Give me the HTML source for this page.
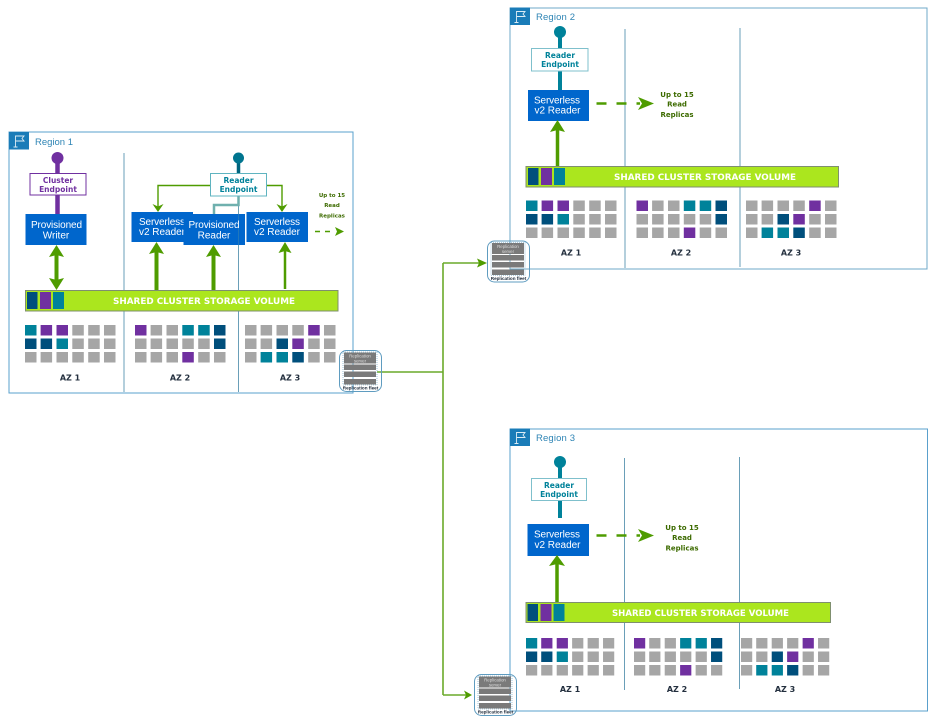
<!DOCTYPE html>
<html><head><meta charset="utf-8"><style>
html,body{margin:0;padding:0;background:#fff}
svg{display:block;filter:blur(.3px)}
.rg{font:9.5px "Liberation Sans",sans-serif;fill:#2f85b5}
.bt{font:10px "Liberation Sans",sans-serif;fill:#fff;text-anchor:middle}
.ep{font:bold 7.5px "DejaVu Sans",sans-serif;text-anchor:middle}
.az{font:bold 8px "DejaVu Sans",sans-serif;fill:#232f3e;text-anchor:middle}
.bar{font:bold 8.8px "DejaVu Sans",sans-serif;fill:#fff}
.up{font:bold 7px "DejaVu Sans",sans-serif;fill:#3d6b00;text-anchor:middle}
.sm{font:bold 5.500px "DejaVu Sans",sans-serif;fill:#3d6b00;text-anchor:middle}
.t{fill:#00829a}.p{fill:#7030a0}.n{fill:#004f7c}.g{fill:#a6a6a6}
</style></head><body>
<svg width="936" height="726" viewBox="0 0 936 726" xmlns="http://www.w3.org/2000/svg">
<defs>
<g id="flag"><rect width="20" height="17.500" fill="#1a7cb8"/><path d="M6.500 3.500V15M4.500 15H8.500M6.500 4H15L13 6.500L15 9H6.500" fill="none" stroke="#dcecf5" stroke-width=".9"/></g>
<g id="a1">
<rect x="0" y="0" width="11.500" height="10.500" class="t"/><rect x="15.600" y="0" width="11.500" height="10.500" class="p"/><rect x="31.500" y="0" width="11.500" height="10.500" class="p"/><rect x="47.300" y="0" width="11.500" height="10.500" class="g"/><rect x="63.200" y="0" width="11.500" height="10.500" class="g"/><rect x="79" y="0" width="11.500" height="10.500" class="g"/>
<rect x="0" y="13.500" width="11.500" height="10.500" class="n"/><rect x="15.600" y="13.500" width="11.500" height="10.500" class="n"/><rect x="31.500" y="13.500" width="11.500" height="10.500" class="t"/><rect x="47.300" y="13.500" width="11.500" height="10.500" class="g"/><rect x="63.200" y="13.500" width="11.500" height="10.500" class="g"/><rect x="79" y="13.500" width="11.500" height="10.500" class="g"/>
<rect x="0" y="27" width="11.500" height="10.500" class="g"/><rect x="15.600" y="27" width="11.500" height="10.500" class="g"/><rect x="31.500" y="27" width="11.500" height="10.500" class="g"/><rect x="47.300" y="27" width="11.500" height="10.500" class="g"/><rect x="63.200" y="27" width="11.500" height="10.500" class="g"/><rect x="79" y="27" width="11.500" height="10.500" class="g"/>
</g>
<g id="a2">
<rect x="0" y="0" width="11.500" height="10.500" class="p"/><rect x="15.600" y="0" width="11.500" height="10.500" class="g"/><rect x="31.500" y="0" width="11.500" height="10.500" class="g"/><rect x="47.300" y="0" width="11.500" height="10.500" class="t"/><rect x="63.200" y="0" width="11.500" height="10.500" class="t"/><rect x="79" y="0" width="11.500" height="10.500" class="n"/>
<rect x="0" y="13.500" width="11.500" height="10.500" class="g"/><rect x="15.600" y="13.500" width="11.500" height="10.500" class="g"/><rect x="31.500" y="13.500" width="11.500" height="10.500" class="g"/><rect x="47.300" y="13.500" width="11.500" height="10.500" class="g"/><rect x="63.200" y="13.500" width="11.500" height="10.500" class="g"/><rect x="79" y="13.500" width="11.500" height="10.500" class="n"/>
<rect x="0" y="27" width="11.500" height="10.500" class="g"/><rect x="15.600" y="27" width="11.500" height="10.500" class="g"/><rect x="31.500" y="27" width="11.500" height="10.500" class="g"/><rect x="47.300" y="27" width="11.500" height="10.500" class="p"/><rect x="63.200" y="27" width="11.500" height="10.500" class="g"/><rect x="79" y="27" width="11.500" height="10.500" class="g"/>
</g>
<g id="a3">
<rect x="0" y="0" width="11.500" height="10.500" class="g"/><rect x="15.600" y="0" width="11.500" height="10.500" class="g"/><rect x="31.500" y="0" width="11.500" height="10.500" class="g"/><rect x="47.300" y="0" width="11.500" height="10.500" class="g"/><rect x="63.200" y="0" width="11.500" height="10.500" class="p"/><rect x="79" y="0" width="11.500" height="10.500" class="g"/>
<rect x="0" y="13.500" width="11.500" height="10.500" class="g"/><rect x="15.600" y="13.500" width="11.500" height="10.500" class="g"/><rect x="31.500" y="13.500" width="11.500" height="10.500" class="n"/><rect x="47.300" y="13.500" width="11.500" height="10.500" class="p"/><rect x="63.200" y="13.500" width="11.500" height="10.500" class="g"/><rect x="79" y="13.500" width="11.500" height="10.500" class="g"/>
<rect x="0" y="27" width="11.500" height="10.500" class="g"/><rect x="15.600" y="27" width="11.500" height="10.500" class="t"/><rect x="31.500" y="27" width="11.500" height="10.500" class="t"/><rect x="47.300" y="27" width="11.500" height="10.500" class="n"/><rect x="63.200" y="27" width="11.500" height="10.500" class="g"/><rect x="79" y="27" width="11.500" height="10.500" class="g"/>
</g>
<g id="sw"><rect x="0" y="0" width="10.500" height="17" class="n"/><rect x="13" y="0" width="11" height="17" class="p"/><rect x="26" y="0" width="11" height="17" class="t"/></g>
<g id="fleet">
<rect x=".5" y=".5" width="42" height="41" rx="7" fill="none" stroke="#5f9cc0" stroke-width="1"/>
<rect x="5" y="2.500" width="32" height="11" fill="#7a7a7a"/>
<rect x="5" y="14.500" width="32" height="5.500" fill="#7a7a7a"/>
<rect x="5" y="21.500" width="32" height="5.500" fill="#7a7a7a"/>
<rect x="5" y="29" width="32" height="5.500" fill="#7a7a7a"/>
<rect x="4" y="2" width="34" height="33" fill="none" stroke="#5f9cc0" stroke-width=".6" stroke-dasharray="1 1"/>
<text x="21" y="7.500" font-family="Liberation Sans,sans-serif" font-size="4.400" fill="#ddd" text-anchor="middle">Replication</text>
<text x="21" y="12.300" font-family="Liberation Sans,sans-serif" font-size="4.400" fill="#ddd" text-anchor="middle">server</text>
<text x="21.500" y="39.500" font-family="Liberation Sans,sans-serif" font-weight="bold" font-size="4.600" fill="#232f3e" text-anchor="middle">Replication fleet</text>
</g>
</defs>

<!-- Region 1 -->
<rect x="9" y="132" width="344" height="261" fill="#fff" stroke="#5aa0cc" stroke-width="1"/>
<use href="#flag" x="9" y="132"/>
<text class="rg" x="35" y="145" textLength="38">Region 1</text>
<path d="M124 153V392M238.500 196V392" stroke="#6a9fb8" stroke-width="1" fill="none"/>

<path d="M57.500 158V214" stroke="#7030a0" stroke-width="4.500"/>
<circle cx="57.500" cy="158" r="6" fill="#7030a0"/>
<rect x="30" y="173.500" width="56" height="21.500" fill="#fff" stroke="#7030a0" stroke-width="1"/>
<text class="ep" x="58" y="183" style="fill:#7030a0">Cluster</text>
<text class="ep" x="58" y="192" style="fill:#7030a0">Endpoint</text>
<rect x="25.500" y="214" width="61" height="31" fill="#0066cc"/>
<text class="bt" x="56.500" y="228" textLength="51">Provisioned</text>
<text class="bt" x="56" y="238.500">Writer</text>
<path d="M56.500 252V283" stroke="#4f9c00" stroke-width="4"/>
<path d="M56.500 245L64 257L56.500 255L49 257Z M56.500 290L64 278L56.500 280L49 278Z" fill="#4f9c00"/>

<path d="M238.500 158V173" stroke="#00657f" stroke-width="3.500"/>
<circle cx="238.500" cy="158" r="5.500" fill="#00758f"/>
<path d="M210 185.500H158V210M267 185.500H282V211" fill="none" stroke="#4f9c00" stroke-width="1.400"/>
<path d="M158 212L152.500 204L158 206.500L163.500 204Z M282 212L276.500 204L282 206.500L287.500 204Z" fill="#4f9c00"/>
<path d="M238.500 196V205H214V214" fill="none" stroke="#6fb0ae" stroke-width="2.500"/>
<rect x="210.500" y="173.500" width="56" height="22.500" fill="#fff" stroke="#5fb4c0" stroke-width="1"/>
<text class="ep" x="238.500" y="183" style="fill:#00829a">Reader</text>
<text class="ep" x="238.500" y="192" style="fill:#00829a">Endpoint</text>

<rect x="131.500" y="212" width="61.500" height="30" fill="#0066cc"/>
<text class="bt" x="162" y="225" textLength="46">Serverless</text>
<text class="bt" x="162" y="235" textLength="46">v2 Reader</text>
<rect x="183.500" y="214" width="61.500" height="31" fill="#0066cc"/>
<path d="M238.500 214V245" stroke="#2f7fb5" stroke-width=".7"/>
<text class="bt" x="214" y="228" textLength="51">Provisioned</text>
<text class="bt" x="214" y="238.500">Reader</text>
<rect x="246.500" y="212" width="61.500" height="30" fill="#0066cc"/>
<text class="bt" x="277" y="225" textLength="46">Serverless</text>
<text class="bt" x="277" y="235" textLength="46">v2 Reader</text>

<path d="M156.500 250V290M213.500 252V290" stroke="#4f9c00" stroke-width="4"/>
<path d="M156.500 242L164 254L156.500 252L149 254Z M213.500 245L221 257L213.500 255L206 257Z" fill="#4f9c00"/>
<path d="M285 250V289" stroke="#4f9c00" stroke-width="2.500"/>
<path d="M285 242L291.500 253L285 251L278.500 253Z" fill="#4f9c00"/>
<path d="M315 231.500H334" stroke="#4f9c00" stroke-width="1.400" stroke-dasharray="5 5"/>
<path d="M344 231.500L335 227L337 231.500L335 236Z" fill="#4f9c00"/>
<text class="sm" x="332" y="197">Up to 15</text>
<text class="sm" x="332" y="207">Read</text>
<text class="sm" x="332" y="217.500">Replicas</text>

<rect x="25.500" y="290.500" width="312.500" height="20.500" fill="#abe61e" stroke="#7f8f6f" stroke-width="1"/>
<use href="#sw" x="27" y="292"/>
<text class="bar" x="113" y="304" textLength="182" lengthAdjust="spacingAndGlyphs">SHARED CLUSTER STORAGE VOLUME</text>
<use href="#a1" x="25" y="325"/><use href="#a2" x="135" y="325"/><use href="#a3" x="245" y="325"/>
<text class="az" x="70" y="380.500">AZ 1</text><text class="az" x="180" y="380.500">AZ 2</text><text class="az" x="290" y="380.500">AZ 3</text>

<!-- Region 2 -->
<rect x="510" y="8" width="417" height="261" fill="#fff" stroke="#6fa8c8" stroke-width="1"/>
<use href="#flag" x="510" y="7.500"/>
<text class="rg" x="536" y="20" textLength="39">Region 2</text>
<path d="M625 29V268M740 28V267" stroke="#6a9fb8" stroke-width="1" fill="none"/>
<path d="M560 32V90" stroke="#00829a" stroke-width="4"/>
<circle cx="560" cy="32" r="6" fill="#00829a"/>
<rect x="531.500" y="48.500" width="56.500" height="22.500" fill="#fff" stroke="#7fc0cc" stroke-width="1"/>
<text class="ep" x="560" y="58" style="fill:#00829a">Reader</text>
<text class="ep" x="560" y="67" style="fill:#00829a">Endpoint</text>
<rect x="528" y="90" width="61" height="31" fill="#0066cc"/>
<text class="bt" x="557" y="103.500" textLength="46">Serverless</text>
<text class="bt" x="557.500" y="113.500" textLength="46">v2 Reader</text>
<path d="M557.500 128V166" stroke="#4f9c00" stroke-width="3.500"/>
<path d="M557.500 120L565 132L557.500 130L550 132Z" fill="#4f9c00"/>
<path d="M596.500 103.500H640" stroke="#4f9c00" stroke-width="2.500" stroke-dasharray="10 10"/>
<path d="M654 103.500L638 97L642 103.500L638 110Z" fill="#4f9c00"/>
<text class="up" x="677" y="97">Up to 15</text>
<text class="up" x="677" y="106.500">Read</text>
<text class="up" x="677" y="117">Replicas</text>
<rect x="526" y="166.500" width="312.500" height="20.500" fill="#abe61e" stroke="#7f8f6f" stroke-width="1"/>
<use href="#sw" x="528" y="168"/>
<text class="bar" x="614" y="180" textLength="182" lengthAdjust="spacingAndGlyphs">SHARED CLUSTER STORAGE VOLUME</text>
<use href="#a1" x="526" y="200.500"/><use href="#a2" x="636.500" y="200.500"/><use href="#a3" x="746" y="200.500"/>
<text class="az" x="571" y="255.500">AZ 1</text><text class="az" x="681" y="255.500">AZ 2</text><text class="az" x="791" y="255.500">AZ 3</text>

<!-- Region 3 -->
<rect x="510" y="429" width="417.500" height="282" fill="#fff" stroke="#5aa0cc" stroke-width="1"/>
<use href="#flag" x="510" y="428.500"/>
<text class="rg" x="536" y="441" textLength="39">Region 3</text>
<path d="M624.500 458V690M739.500 457V689" stroke="#6a9fb8" stroke-width="1" fill="none"/>
<path d="M560 462V518" stroke="#00829a" stroke-width="4"/>
<circle cx="560" cy="462" r="6" fill="#00829a"/>
<rect x="531.500" y="478.500" width="55" height="22" fill="#fff" stroke="#7fc0cc" stroke-width="1"/>
<text class="ep" x="559" y="488" style="fill:#00829a">Reader</text>
<text class="ep" x="559" y="497" style="fill:#00829a">Endpoint</text>
<rect x="527.500" y="524" width="61.500" height="32" fill="#0066cc"/>
<text class="bt" x="557" y="537.500" textLength="46">Serverless</text>
<text class="bt" x="557.500" y="548" textLength="46">v2 Reader</text>
<path d="M557 563V602" stroke="#4f9c00" stroke-width="3.500"/>
<path d="M557 555L565 566L557 564L549 566Z" fill="#4f9c00"/>
<path d="M596.500 535.500H640" stroke="#4f9c00" stroke-width="2.500" stroke-dasharray="10 10"/>
<path d="M654 535.500L638 529L642 535.500L638 542Z" fill="#4f9c00"/>
<text class="up" x="682" y="530">Up to 15</text>
<text class="up" x="682" y="540">Read</text>
<text class="up" x="682" y="550.500">Replicas</text>
<rect x="526" y="602.500" width="304.500" height="20" fill="#abe61e" stroke="#7f8f6f" stroke-width="1"/>
<use href="#sw" x="527.500" y="604"/>
<text class="bar" x="612" y="616" textLength="177" lengthAdjust="spacingAndGlyphs">SHARED CLUSTER STORAGE VOLUME</text>
<g transform="translate(526 638) scale(.975 1)"><use href="#a1"/></g>
<g transform="translate(634 638) scale(.975 1)"><use href="#a2"/></g>
<g transform="translate(741 638) scale(.975 1)"><use href="#a3"/></g>
<text class="az" x="570" y="692">AZ 1</text><text class="az" x="677" y="692">AZ 2</text><text class="az" x="785" y="692">AZ 3</text>

<!-- Connectors and fleets -->
<path d="M377 372H443M443 263V695M443 263H480M443 695H467" fill="none" stroke="#6aaa2a" stroke-width="1.600"/>
<path d="M487 263L477 258.500L479 263L477 267.500Z M472 695L464 690.500L466 695L464 699.500Z" fill="#4f9c00"/>
<use href="#fleet" x="339" y="350"/>
<use href="#fleet" x="487" y="240.500"/>
<use href="#fleet" x="474" y="674"/>
</svg>
</body></html>
